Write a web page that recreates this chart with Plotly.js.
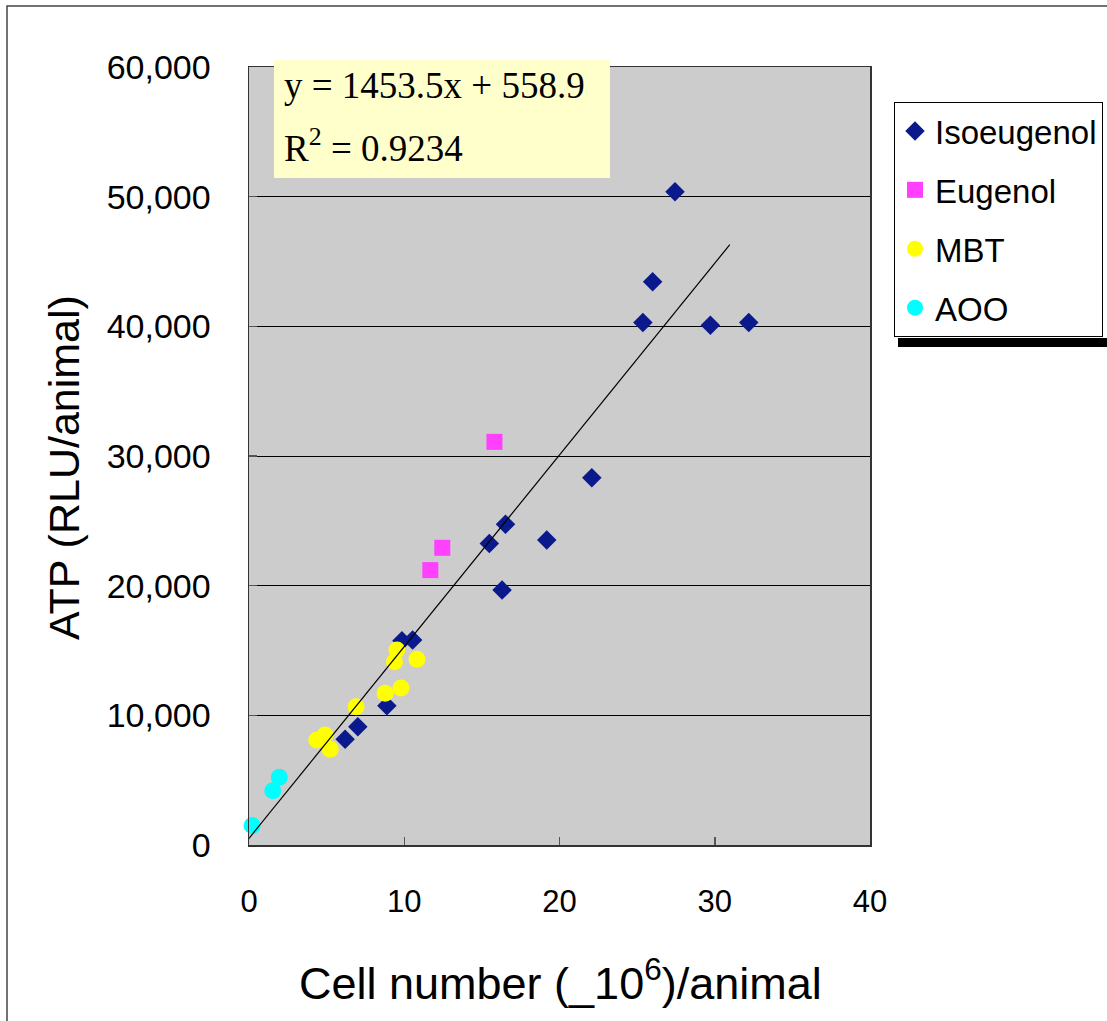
<!DOCTYPE html>
<html>
<head>
<meta charset="utf-8">
<script src="https://cdn.plot.ly/plotly-3.0.1.min.js"></script>
<style>html,body{margin:0;padding:0;background:#fff;}#chart{width:1107px;height:1021px;}</style>
</head>
<body>
<div id="chart"></div>
<script>
// ---- data ----
const isoX = [6.19, 7.01, 8.88, 9.85, 10.54, 15.48, 16.30, 16.52, 19.18, 22.08, 25.37, 26.00, 27.44, 29.72, 32.19];
const isoY = [8150, 9120, 10740, 15750, 15810, 23260, 19660, 24730, 23520, 28320, 40300, 43430, 50370, 40090, 40300];
const eugX = [11.68, 12.45, 15.81];
const eugY = [21200, 22920, 31090];
const mbtX = [4.37, 4.90, 5.23, 6.90, 8.77, 9.37, 9.53, 9.79, 10.82];
const mbtY = [8100, 8480, 7380, 10660, 11700, 14130, 15030, 12100, 14320];
const aooX = [0.2, 1.53, 1.95];
const aooY = [1500, 4190, 5220];
const trendX = [-0.55, 30.97];
const trendY = [-300, 46300];
const seriesNames = ["Isoeugenol", "Eugenol", "MBT", "AOO"];
const equationText = "y = 1453.5x + 558.9";
const r2Text = "R<sup>2</sup> = 0.9234";
const xTitle = "Cell number (_10<sup>6</sup>)/animal";
const yTitle = "ATP (RLU/animal)";

// ---- geometry helpers (pixel -> paper) ----
const L = 249, R = 870, T = 67, B = 845;
const W = R - L, H = B - T;
const px = v => (v - L) / W;
const py = v => (B - v) / H;

const sans = "Liberation Sans, Arial, sans-serif";

const traces = [
  {x: isoX, y: isoY, name: seriesNames[0], mode: "markers", type: "scatter", legendgroup: "a", cliponaxis: false,
   marker: {symbol: "diamond", size: 15, color: "#0A1A8C"}},
  {x: eugX, y: eugY, name: seriesNames[1], mode: "markers", type: "scatter", legendgroup: "b", cliponaxis: false,
   marker: {symbol: "square", size: 16, color: "#FF40FF"}},
  {x: mbtX, y: mbtY, name: seriesNames[2], mode: "markers", type: "scatter", legendgroup: "c", cliponaxis: false,
   marker: {symbol: "circle", size: 17, color: "#FFFF00"}},
  {x: aooX, y: aooY, name: seriesNames[3], mode: "markers", type: "scatter", legendgroup: "d", cliponaxis: false,
   marker: {symbol: "circle", size: 17, color: "#00FFFF"}},
  {x: trendX, y: trendY, mode: "lines", type: "scatter", showlegend: false, hoverinfo: "skip",
   line: {color: "#000", width: 1.2}}
];

const layout = {
  width: 1107, height: 1021,
  margin: {l: L, r: 1107 - R, t: T, b: 1021 - B, autoexpand: false},
  paper_bgcolor: "#fff",
  plot_bgcolor: "#CCCCCC",
  font: {family: sans, color: "#000"},
  showlegend: true,
  legend: {
    x: px(894), y: py(102), xanchor: "left", yanchor: "top",
    bgcolor: "#fff", bordercolor: "#000", borderwidth: 1,
    font: {family: sans, size: 33, color: "#000"},
    traceorder: "grouped", tracegroupgap: 13
  },
  xaxis: {
    range: [0, 40], dtick: 10, tick0: 0,
    showgrid: false, zeroline: false,
    showline: true, linecolor: "#333", linewidth: 1.5, mirror: true,
    ticks: "inside", ticklen: 8, tickcolor: "#555", tickwidth: 1.5,
    tickfont: {family: sans, size: 31, color: "#000"},
    ticklabelstandoff: 28
  },
  yaxis: {
    range: [0, 60000], dtick: 10000, tick0: 0,
    tickformat: ",d",
    showgrid: true, gridcolor: "#000", gridwidth: 1,
    zeroline: false,
    showline: true, linecolor: "#333", linewidth: 1.5, mirror: true,
    ticks: "inside", ticklen: 8, tickcolor: "#555", tickwidth: 1.5,
    tickfont: {family: sans, size: 34, color: "#000"},
    ticklabelstandoff: 30
  },
  shapes: [
    // outer chart frame
    {type: "rect", xref: "paper", yref: "paper", x0: px(7), x1: px(1120), y0: py(1040), y1: py(6),
     line: {color: "#444", width: 1.5}, fillcolor: "rgba(0,0,0,0)", layer: "below"},
    // equation box
    {type: "rect", xref: "paper", yref: "paper", x0: px(274), x1: px(610), y0: py(178), y1: py(60),
     line: {width: 0}, fillcolor: "#FFFFCC", layer: "above"},
    // legend shadow
    {type: "rect", xref: "paper", yref: "paper", x0: px(898), x1: px(1120), y0: py(347), y1: py(338),
     line: {width: 0}, fillcolor: "#000", layer: "above"}
  ],
  annotations: [
    {xref: "paper", yref: "paper", x: px(282), y: py(86), xanchor: "left", yanchor: "middle",
     text: equationText, showarrow: false,
     font: {family: "Liberation Serif, Times New Roman, serif", size: 37, color: "#000"}},
    {xref: "paper", yref: "paper", x: px(282), y: py(146), xanchor: "left", yanchor: "middle",
     text: r2Text, showarrow: false,
     font: {family: "Liberation Serif, Times New Roman, serif", size: 37, color: "#000"}},
    {xref: "paper", yref: "paper", x: px(560), y: py(980), xanchor: "center", yanchor: "middle",
     text: xTitle, showarrow: false,
     font: {family: sans, size: 45, color: "#000"}},
    {xref: "paper", yref: "paper", x: px(64), y: py(468), xanchor: "center", yanchor: "middle",
     text: yTitle, showarrow: false, textangle: -90,
     font: {family: sans, size: 43, color: "#000"}}
  ]
};

Plotly.newPlot("chart", traces, layout, {staticPlot: true, displayModeBar: false});
</script>
</body>
</html>
